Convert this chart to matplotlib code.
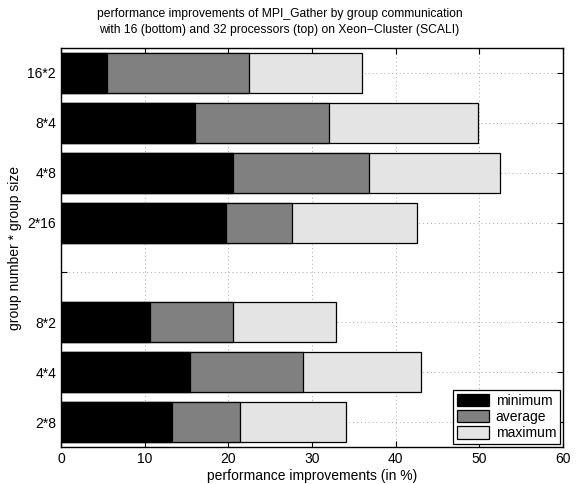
import numpy as np
import matplotlib.pyplot as plt

plt.rcParams['font.family'] = ['Liberation Sans', 'DejaVu Sans']

# groups from bottom to top; the empty slot separates 16 and 32 processors
groups = ['2*8', '4*4', '8*2', '', '2*16', '4*8', '8*4', '16*2']
minimum = [13.3, 15.45, 10.6, np.nan, 19.7, 20.5, 16.05, 5.5]
average = [21.35, 28.9, 20.6, np.nan, 27.6, 36.8, 32.0, 22.5]
maximum = [34.1, 43.0, 32.9, np.nan, 42.5, 52.5, 49.8, 36.0]

pos = np.arange(1, len(groups) + 1)
bar_h = 0.8

fig = plt.figure(figsize=(5.83, 4.84), dpi=100)
ax = fig.add_axes([0.1046, 0.0764, 0.8611, 0.8244])

# longest bars first so the shorter ones sit on top
ax.barh(pos, maximum, height=bar_h, color='#e4e4e4', edgecolor='black', linewidth=0.9, label='maximum', zorder=2)
ax.barh(pos, average, height=bar_h, color='#808080', edgecolor='black', linewidth=0.9, label='average', zorder=3)
ax.barh(pos, minimum, height=bar_h, color='black', edgecolor='black', linewidth=0.9, label='minimum', zorder=4)

ax.set_xlim(0, 60)
ax.set_ylim(0.5, len(groups) + 0.5)
ax.set_xticks(np.arange(0, 61, 10))
ax.set_yticks(pos)
ax.set_yticklabels(groups)
ax.tick_params(direction='in', top=True, right=True, labelsize=10, length=4)
ax.grid(True, linestyle=(0, (1, 3)), color='#aaaaaa', linewidth=0.7, zorder=0)
ax.set_axisbelow(True)
for s in ax.spines.values():
    s.set_linewidth(1.0)
    s.set_zorder(5)

ax.set_xlabel('performance improvements (in %)', fontsize=10, labelpad=2)
ax.set_ylabel('group number * group size', fontsize=10)
fig.text(0.4795, 0.983,
         'performance improvements of MPI_Gather by group communication\n'
         'with 16 (bottom) and 32 processors (top) on Xeon\u2212Cluster (SCALI)',
         ha='center', va='top', fontsize=8.75, linespacing=1.45)

handles, labels = ax.get_legend_handles_labels()
leg = ax.legend(handles[::-1], labels[::-1], loc='lower right', fontsize=10,
                fancybox=False, edgecolor='black', framealpha=1,
                handlelength=2.3, handleheight=1.0, labelspacing=0.15,
                borderpad=0.25, borderaxespad=0.25, handletextpad=0.5)
leg.get_frame().set_linewidth(0.9)

fig.savefig('out.png', dpi=100)
